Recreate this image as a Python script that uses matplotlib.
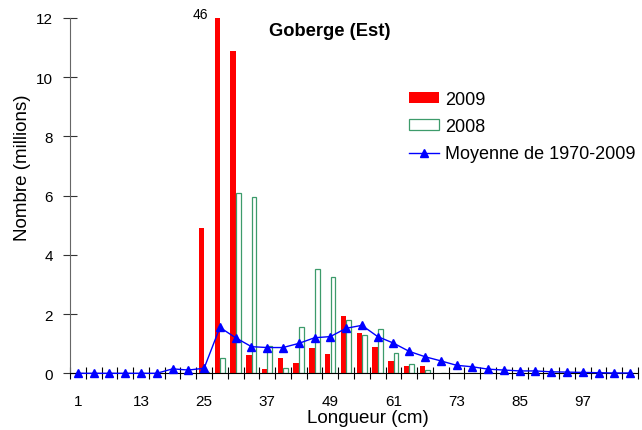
import matplotlib
matplotlib.use('Agg')
import matplotlib.pyplot as plt
import numpy as np

plt.rcParams['font.family'] = ['Liberation Sans', 'DejaVu Sans']

# Data (length classes in cm, every 3 cm)
lengths = list(range(1, 107, 3))
tick_labels = ['1', '13', '25', '37', '49', '61', '73', '85', '97']

v2009 = [0, 0, 0, 0, 0, 0, 0, 0,
         4.9, 46, 10.9, 0.62, 0.13, 0.5, 0.36, 0.84, 0.65, 1.95, 1.37, 0.89,
         0.43, 0.24, 0.24,
         0, 0, 0, 0, 0, 0, 0, 0, 0, 0, 0, 0, 0]
v2008 = [0, 0, 0, 0, 0, 0, 0, 0,
         0.03, 0.5, 6.08, 5.97, 0.92, 0.17, 1.55, 3.52, 3.24, 1.80, 1.28, 1.49,
         0.69, 0.30, 0.11,
         0, 0, 0, 0, 0, 0, 0, 0, 0, 0, 0, 0, 0]
mean = [0, 0, 0, 0, 0, 0,
        0.15, 0.11, 0.17, 1.55, 1.20, 0.90, 0.87, 0.87, 1.01, 1.20, 1.24, 1.52,
        1.62, 1.24, 1.02, 0.74, 0.56, 0.42, 0.27, 0.22, 0.14, 0.11, 0.08, 0.08,
        0.05, 0.04, 0.03, 0.02, 0.01, 0.01]

fig = plt.figure(figsize=(6.42, 4.31), dpi=100)
ax = fig.add_axes([70 / 642, 1 - 374.3 / 431, 568 / 642, 355.3 / 431])

x = np.arange(len(lengths))
b1 = ax.bar(x - 0.165, v2009, width=0.34, color='#ff0000', linewidth=0, zorder=2)
b2 = ax.bar(x + 0.165, v2008, width=0.30, facecolor='white', edgecolor='#3d9b6b',
            linewidth=0.9, zorder=2)
ln, = ax.plot(x, mean, color='#0000ff', lw=1, marker='^', ms=5.5, zorder=3,
              clip_on=False)

ax.set_xlim(-0.5, len(lengths) - 0.5)
ax.set_ylim(0, 12)

# x ticks at category boundaries, labels every 4th category
ax.set_xticks(np.arange(-0.5, len(lengths), 1))
ax.tick_params(axis='x', which='major', direction='inout', length=8.5, width=0.8,
               labelbottom=False)
ax.set_xticks(np.arange(0, len(lengths), 4), minor=True)
ax.set_xticklabels(tick_labels, minor=True)
ax.tick_params(axis='x', which='minor', length=0, pad=14.9, labelsize=11)

ax.set_yticks(range(0, 13, 2))
ax.tick_params(axis='y', direction='inout', length=10, width=0.8, pad=7.2,
               labelsize=11, color='#333333')

for s in ['top', 'right']:
    ax.spines[s].set_visible(False)
ax.spines['left'].set_color('#666666')
ax.spines['bottom'].set_color('black')

ax.legend([b1, b2, ln], ['2009', '2008', 'Moyenne de 1970-2009'],
          loc='upper left', bbox_to_anchor=(0.597, 0.795), frameon=False,
          fontsize=13, handlelength=1.66, handleheight=0.55, handletextpad=0.32,
          labelspacing=0.57, borderpad=0, borderaxespad=0)

ax.text(0.457, 0.964, 'Goberge (Est)', transform=ax.transAxes, ha='center',
        va='center', fontsize=13.2, fontweight='bold')
ax.text(7.77, 12.14, '46', ha='center', va='center', fontsize=10, clip_on=False)

fig.text(368 / 642, 1 - 419 / 431, 'Longueur (cm)', ha='center', va='center',
         fontsize=13.5)
fig.text(23 / 642, 1 - 167.5 / 431, 'Nombre (millions)', ha='center',
         va='center', rotation=90, fontsize=13.5)

fig.savefig('out.png', dpi=100)
